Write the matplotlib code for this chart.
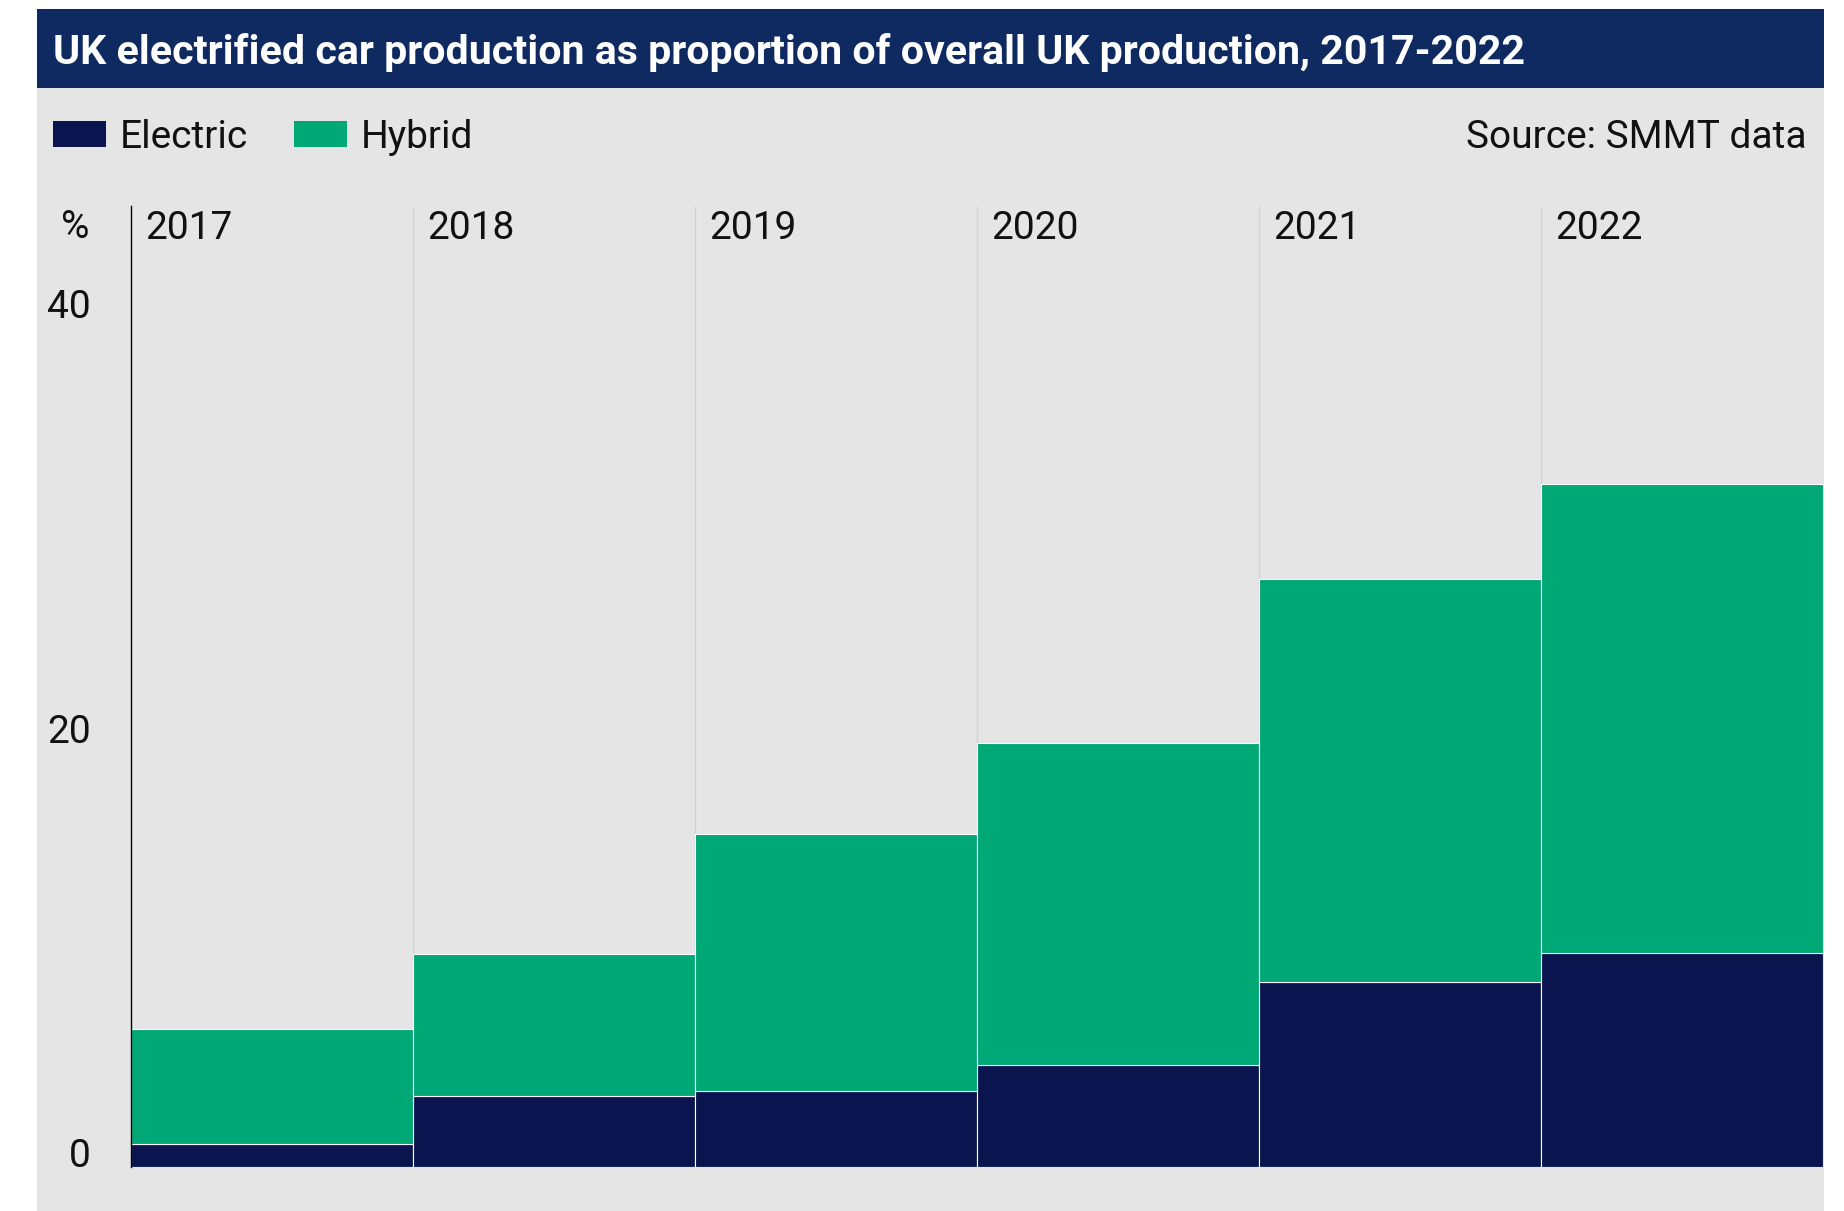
import numpy as np
import matplotlib
matplotlib.use("Agg")
import matplotlib.pyplot as plt
from matplotlib.patches import Rectangle


## Data (share of UK car production, %)
years = ["2017", "2018", "2019", "2020", "2021", "2022"]
electric = np.array([1.1, 3.35, 3.6, 4.8, 8.7, 10.1])
hybrid = np.array([5.4, 6.7, 12.1, 15.2, 19.0, 22.1])
series_names = ["Electric", "Hybrid"]
yticks = [0, 20, 40]

title = "UK electrified car production as proportion of overall UK production, 2017-2022"
source = "Source: SMMT data"

## Style
ELEC = "#0a144f"
HYB = "#00a875"
BAND = "#0e2a61"
PANEL = "#e5e5e5"
SEP = "#d2d2d2"
TXT = "#111111"
FONT = ["Roboto", "DejaVu Sans"]
plt.rcParams["font.family"] = FONT
FS = 28

W, H = 1844, 1211


def fx(px):
    return px / W


def fy(py):
    # pixel rows counted from the top
    return 1 - py / H


fig = plt.figure(figsize=(W / 100, H / 100), dpi=100)
fig.patch.set_facecolor("white")

# grey panel and title band
fig.patches.append(Rectangle((fx(37), 0), fx(1824) - fx(37), fy(9), transform=fig.transFigure,
                             facecolor=PANEL, edgecolor="none", zorder=0))
fig.patches.append(Rectangle((fx(37), fy(88)), fx(1824) - fx(37), fy(9) - fy(88), transform=fig.transFigure,
                             facecolor=BAND, edgecolor="none", zorder=1))
fig.text(fx(53), fy(52), title, color="white", fontsize=29.6, fontweight="bold", va="center", ha="left")

# legend
for name, col, x0 in zip(series_names, [ELEC, HYB], [53, 294]):
    fig.patches.append(Rectangle((fx(x0), fy(147)), fx(53), fy(121) - fy(147),
                                 transform=fig.transFigure, facecolor=col, edgecolor="none"))
    fig.text(fx(x0 + 67), fy(137), name, color=TXT, fontsize=FS, va="center", ha="left")
fig.text(fx(1807), fy(137), source, color=TXT, fontsize=FS, va="center", ha="right")

# chart
ax = fig.add_axes([fx(131), fy(1167), fx(1823) - fx(131), fy(206) - fy(1167)])
ax.set_zorder(5)
ax.set_facecolor("none")
x = np.arange(len(years))
ax.vlines(x[1:], 0, 45.3, color=SEP, linewidth=1, zorder=0)
ax.bar(x, electric, width=1, align="edge", color=ELEC, edgecolor="white", linewidth=0.8, zorder=2)
ax.bar(x, hybrid, width=1, align="edge", bottom=electric, color=HYB, edgecolor="white",
       linewidth=0.8, zorder=2)
ax.set_xlim(0, len(years))
ax.set_ylim(0, 45.3)

for s in ["top", "right", "bottom"]:
    ax.spines[s].set_visible(False)
ax.spines["left"].set_color("black")
ax.spines["left"].set_linewidth(1)
ax.spines["left"].set_zorder(3)

ax.set_xticks([])
ax.set_yticks(yticks)
ax.set_yticklabels([str(t) for t in yticks])
ax.tick_params(axis="y", length=0, pad=28.8, labelsize=FS, labelcolor=TXT)
for lab in ax.get_yticklabels():
    lab.set_va("baseline")

for i, yr in enumerate(years):
    ax.annotate(yr, xy=(i, 1), xycoords=("data", "axes fraction"), xytext=(10.5, -16),
                textcoords="offset points", fontsize=FS, color=TXT, va="center", ha="left")
fig.text(fx(75), fy(227), "%", color=TXT, fontsize=FS, va="center", ha="center")

fig.savefig("out.png", dpi=100)
